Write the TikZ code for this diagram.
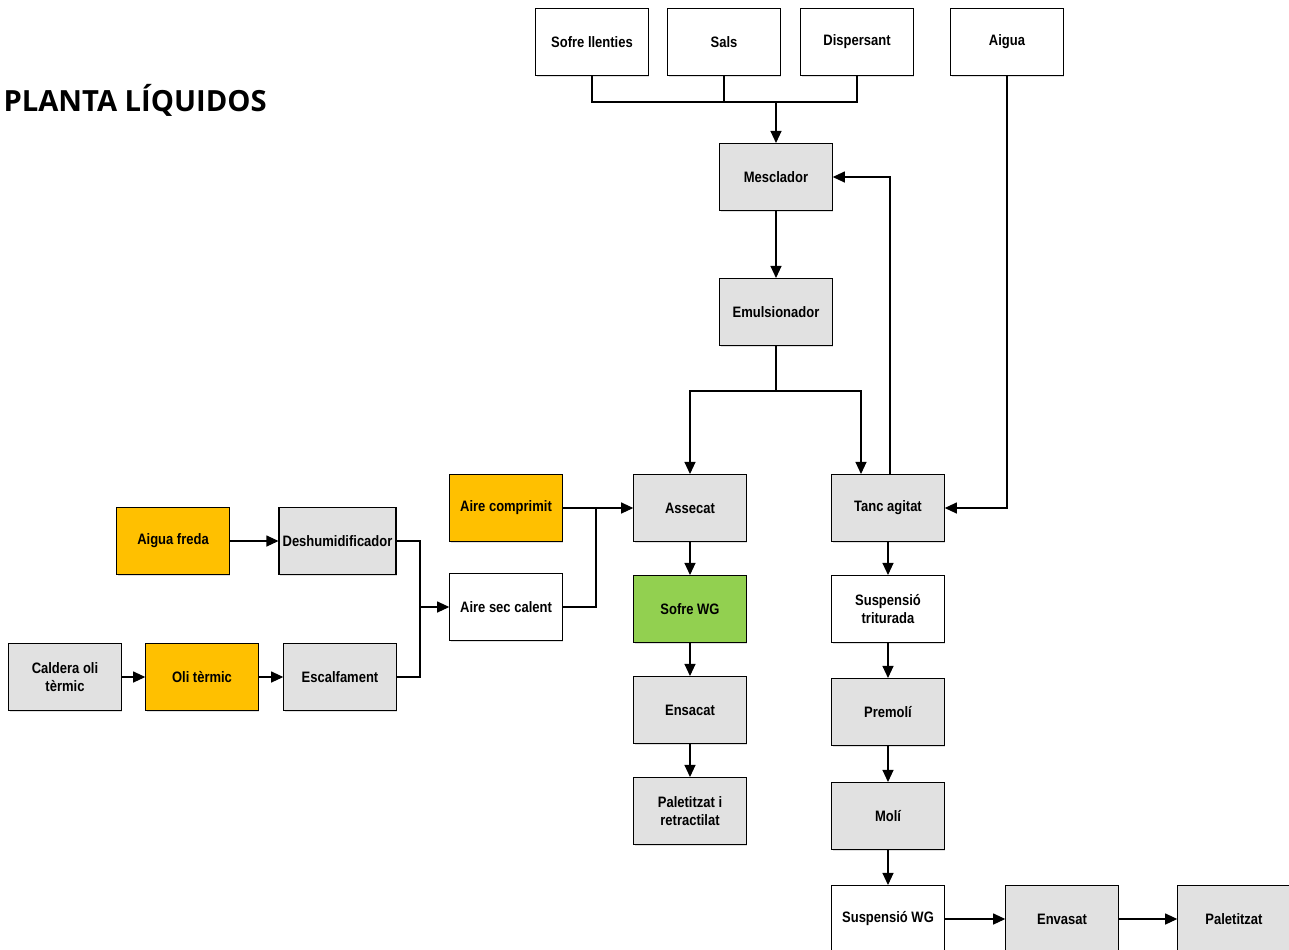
\documentclass[tikz,border=0pt]{standalone}
\usepackage{fontspec}
\setmainfont[FakeStretch=0.86]{Liberation Sans}
\newfontfamily\titlefont{Open Sans}
\usetikzlibrary{arrows.meta,shadows}
\definecolor{procgray}{HTML}{E1E1E1}
\definecolor{utilorange}{HTML}{FFC000}
\definecolor{prodgreen}{HTML}{92D050}

\begin{document}
\begin{tikzpicture}[x=0.2mm, y=-0.2mm, line width=0.6pt,
  >={Triangle[length=2.4mm,width=2.2mm]},
  every node/.style={draw, rectangle, minimum width=2.25cm, minimum height=1.34cm, align=center,
    font=\bfseries\fontsize{8.6}{10.5}\selectfont, fill=white,
    drop shadow={shadow xshift=0.6pt, shadow yshift=-0.6pt, opacity=0.25}},
  proc/.style={fill=procgray},
  util/.style={fill=utilorange},
  prod/.style={fill=prodgreen}]
\useasboundingbox (0,0) rectangle (1289,949);

\begin{scope}[every node/.style={}]
\node[anchor=west, inner sep=0, font=\titlefont\bfseries\fontsize{16.6}{19}\selectfont] (title) at (3,100) {PLANTA LÍQUIDOS};
\end{scope}

% entrades
\node (sofre) at (592,42) {Sofre llenties};
\node (sals) at (724,42) {Sals};
\node (disp) at (857,42) {Dispersant};
\node (aigua) at (1007,42) {Aigua};

% linia principal
\node[proc] (mescl) at (776,177) {Mesclador};
\node[proc] (emul) at (776,312) {Emulsionador};
\node[proc] (assecat) at (690,508) {Assecat};
\node[proc] (tanc) at (888,508) {Tanc agitat};

% sofre WG
\node[prod] (sofrewg) at (690,609) {Sofre WG};
\node[proc] (ensacat) at (690,710) {Ensacat};
\node[proc] (palret) at (690,811) {Paletitzat i\\retractilat};

% suspensio
\node (susptri) at (888,609) {Suspensió\\triturada};
\node[proc] (premoli) at (888,712) {Premolí};
\node[proc] (moli) at (888,816) {Molí};
\node (suspwg) at (888,919) {Suspensió WG};
\node[proc] (envasat) at (1062,919) {Envasat};
\node[proc] (palet) at (1234,919) {Paletitzat};

% aire
\node[util] (airecomp) at (506,508) {Aire comprimit};
\node (airesec) at (506,607) {Aire sec calent};
\node[util] (aiguafreda) at (173,541) {Aigua freda};
\node[proc, minimum width=2.34cm, inner xsep=1pt] (deshum) at (337.5,541) {Deshumidificador};
\node[proc] (caldera) at (65,677) {Caldera oli\\tèrmic};
\node[util] (oli) at (202,677) {Oli tèrmic};
\node[proc] (escalf) at (340,677) {Escalfament};

\coordinate (topjoin) at (776,102);
\coordinate (emjoin) at (776,391);
\coordinate (airejoin) at (596,508);
\coordinate (leftjoin) at (420,607);
\coordinate (tancin) at ([xshift=-5.4mm]tanc.north);
\coordinate (tancout) at ([xshift=0.4mm]tanc.north);

\draw (sofre.south) |- (topjoin);
\draw (sals.south) |- (topjoin);
\draw (disp.south) |- (topjoin);
\draw[->] (topjoin) -- (mescl);
\draw[->] (mescl) -- (emul);
\draw (emul) -- (emjoin);
\draw[->] (emjoin) -| (assecat);
\draw[->] (emjoin) -| (tancin);
\draw[->] (tancout) |- (mescl.east);
\draw[->] (aigua.south) |- (tanc.east);

\draw[->] (assecat) -- (sofrewg);
\draw[->] (sofrewg) -- (ensacat);
\draw[->] (ensacat) -- (palret);

\draw[->] (tanc) -- (susptri);
\draw[->] (susptri) -- (premoli);
\draw[->] (premoli) -- (moli);
\draw[->] (moli) -- (suspwg);
\draw[->] (suspwg) -- (envasat);
\draw[->] (envasat) -- (palet);

\draw[->] (airecomp) -- (assecat);
\draw (airesec.east) -| (airejoin);
\draw[->] (aiguafreda) -- (deshum);
\draw[->] (caldera) -- (oli);
\draw[->] (oli) -- (escalf);
\draw (deshum.east) -| (leftjoin);
\draw (escalf.east) -| (leftjoin);
\draw[->] (leftjoin) -- (airesec);
\end{tikzpicture}
\end{document}
